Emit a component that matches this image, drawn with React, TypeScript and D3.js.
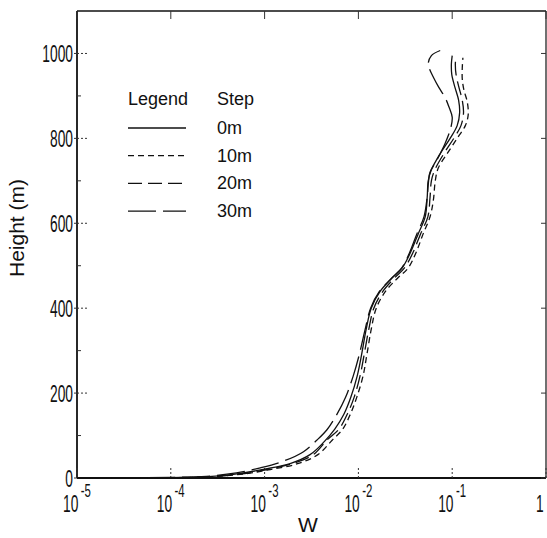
import React, { useEffect, useRef } from 'react';
import * as d3 from 'd3';

// W values vs height (m) for each step
const step0m: [number, number][] = [
  [1e-5, 0], [1e-4, 1], [2.5e-4, 3], [5.5e-4, 11], [1.0e-3, 21], [1.87e-3, 34], [3.05e-3, 55],
  [4.3e-3, 85], [5.6e-3, 115], [7.0e-3, 150], [8.3e-3, 190], [0.0097, 240], [0.0108, 290],
  [0.0121, 350], [0.0137, 400], [0.0171, 440], [0.0225, 470], [0.0293, 495], [0.0357, 530],
  [0.0434, 575], [0.0515, 615], [0.0541, 660], [0.0555, 700], [0.0597, 725], [0.075, 765],
  [0.095, 800], [0.113, 830], [0.12, 860], [0.117, 890], [0.107, 920], [0.099, 950],
  [0.098, 975], [0.1, 995],
];

const step10m: [number, number][] = [
  [1e-5, 0], [1e-4, 0.5], [2.7e-4, 3], [6.2e-4, 10], [1.15e-3, 20], [2.2e-3, 33], [3.7e-3, 55],
  [5.25e-3, 89], [6.8e-3, 115], [8.2e-3, 150], [9.6e-3, 190], [0.0112, 240], [0.0123, 290],
  [0.0137, 350], [0.0155, 400], [0.0195, 440], [0.026, 470], [0.034, 495], [0.041, 530],
  [0.049, 575], [0.058, 615], [0.063, 655], [0.066, 700], [0.071, 730], [0.089, 765],
  [0.113, 800], [0.138, 830], [0.148, 855], [0.145, 885], [0.133, 915], [0.128, 940],
  [0.128, 965], [0.13, 990],
];

const step20m: [number, number][] = [
  [1e-5, 0], [1e-4, 0.8], [2.6e-4, 3], [5.8e-4, 10], [1.07e-3, 20], [2.0e-3, 34], [3.3e-3, 55],
  [4.6e-3, 89], [6.2e-3, 115], [7.6e-3, 150], [9.0e-3, 190], [0.0104, 240], [0.0115, 290],
  [0.0129, 350], [0.0146, 400], [0.0183, 440], [0.024, 470], [0.031, 495], [0.038, 530],
  [0.046, 575], [0.055, 615], [0.058, 660], [0.06, 700], [0.065, 725], [0.082, 765],
  [0.104, 800], [0.124, 830], [0.132, 860], [0.128, 890], [0.118, 920], [0.11, 950],
  [0.108, 975], [0.11, 995],
];

const step30m: [number, number][] = [
  [1e-5, 0], [1e-4, 1.5], [2.4e-4, 4], [5e-4, 12], [9e-4, 24], [1.6e-3, 40], [2.6e-3, 62],
  [3.6e-3, 89], [4.6e-3, 113], [5.9e-3, 150], [7.3e-3, 190], [8.8e-3, 240], [0.0102, 290],
  [0.0118, 350], [0.0135, 400], [0.0168, 440], [0.0225, 470], [0.029, 495], [0.035, 530],
  [0.042, 575], [0.05, 615], [0.054, 660], [0.056, 700], [0.058, 720], [0.069, 750],
  [0.084, 788], [0.097, 826], [0.1, 850], [0.092, 875], [0.084, 896], [0.072, 920],
  [0.063, 944], [0.057, 965], [0.0555, 976], [0.06, 995], [0.0745, 1007],
];

const legendLabels = ['0m', '10m', '20m', '30m'];
const dashes = ['none', '6,4', '14,6', '28,7'];
const yTicks = [0, 200, 400, 600, 800, 1000];
const yMinorTicks = [100, 300, 500, 700, 900];
const xExponents = [-5, -4, -3, -2, -1];

function App() {
  const svgRef = useRef<SVGSVGElement>(null);

  useEffect(() => {
    const width = 547;
    const height = 538;
    const svg = d3.select(svgRef.current).attr('width', width).attr('height', height);
    svg.selectAll('*').remove();

    const x = d3.scaleLog().domain([1e-5, 1]).range([77, 546]);
    const y = d3.scaleLinear().domain([0, 1100]).range([478, 11]);
    const [x0, x1] = x.range();
    const [y0, y1] = y.range();
    const font = '"Liberation Sans", Arial, sans-serif';

    // frame
    const frame = svg.append('g').attr('stroke', '#111').attr('stroke-width', 1.8).attr('fill', 'none');
    frame.append('line').attr('x1', x0).attr('x2', x0).attr('y1', y1).attr('y2', y0);
    frame.append('line').attr('x1', x0).attr('x2', x1).attr('y1', y0).attr('y2', y0);
    frame.append('line').attr('x1', x0).attr('x2', x1).attr('y1', y1).attr('y2', y1).attr('stroke-width', 1.4);
    frame.append('line').attr('x1', x1).attr('x2', x1).attr('y1', y1).attr('y2', y0).attr('stroke-width', 1.2);

    // y ticks
    const ticks = svg.append('g').attr('stroke', '#333').attr('stroke-width', 1);
    yTicks.forEach(t => {
      ticks.append('line').attr('x1', x0).attr('x2', x0 + 11).attr('y1', y(t)).attr('y2', y(t))
        .attr('stroke-dasharray', '2,2');
      ticks.append('line').attr('x1', x0 - 3).attr('x2', x0).attr('y1', y(t)).attr('y2', y(t));
      ticks.append('line').attr('x1', x1 - 5).attr('x2', x1).attr('y1', y(t)).attr('y2', y(t));
    });
    yMinorTicks.forEach(t => {
      ticks.append('line').attr('x1', x0).attr('x2', x0 + 4).attr('y1', y(t)).attr('y2', y(t));
    });

    // x ticks
    xExponents.concat([0]).forEach(e => {
      const px = x(Math.pow(10, e));
      ticks.append('line').attr('x1', px).attr('x2', px).attr('y1', y0).attr('y2', y0 - 10)
        .attr('stroke-dasharray', '2,2');
      ticks.append('line').attr('x1', px).attr('x2', px).attr('y1', y1).attr('y2', y1 + 8);
    });

    // y tick labels (tall, narrow digits)
    yTicks.forEach(t => {
      svg.append('text')
        .attr('transform', `translate(73,${y(t) + 8.5}) scale(0.6,1)`)
        .attr('text-anchor', 'end')
        .attr('font-family', font)
        .attr('font-size', 23)
        .attr('fill', '#111')
        .text(String(t));
    });

    // x tick labels 10^e, condensed
    xExponents.forEach(e => {
      const px = x(Math.pow(10, e));
      const t = svg.append('text')
        .attr('transform', `translate(${px - 14},512) scale(0.6,1)`)
        .attr('font-family', font)
        .attr('font-size', 23)
        .attr('fill', '#111');
      t.append('tspan').text('10');
      t.append('tspan').attr('dx', 4).attr('dy', -15).attr('font-size', 19).text(`-${-e}`);
    });
    svg.append('text')
      .attr('transform', `translate(${x(1) - 10},512) scale(0.6,1)`)
      .attr('font-family', font)
      .attr('font-size', 23)
      .attr('fill', '#111')
      .text('1');

    // axis titles
    svg.append('text')
      .attr('x', 308)
      .attr('y', 532)
      .attr('text-anchor', 'middle')
      .attr('font-family', font)
      .attr('font-size', 21)
      .attr('fill', '#111')
      .text('W');

    svg.append('text')
      .attr('transform', 'translate(24,228) rotate(-90)')
      .attr('text-anchor', 'middle')
      .attr('font-family', font)
      .attr('font-size', 21)
      .attr('fill', '#111')
      .text('Height (m)');

    // curves
    const line = d3.line<[number, number]>()
      .x(d => x(d[0]))
      .y(d => y(d[1]))
      .curve(d3.curveCatmullRom.alpha(0.5));

    const series = [step0m, step10m, step20m, step30m];
    series.forEach((s, i) => {
      svg.append('path')
        .attr('d', line(s))
        .attr('fill', 'none')
        .attr('stroke', '#111')
        .attr('stroke-width', 1.3)
        .attr('stroke-dasharray', dashes[i]);
    });

    // legend
    const legend = svg.append('g').attr('font-family', font).attr('fill', '#111');
    legend.append('text').attr('x', 128).attr('y', 105).attr('font-size', 18).text('Legend');
    legend.append('text').attr('x', 217).attr('y', 105).attr('font-size', 18).text('Step');
    legendLabels.forEach((lab, i) => {
      const ly = 128 + i * 27.7;
      legend.append('line')
        .attr('x1', 128).attr('x2', 186).attr('y1', ly).attr('y2', ly)
        .attr('stroke', '#111').attr('stroke-width', 1.3)
        .attr('stroke-dasharray', dashes[i]);
      legend.append('text').attr('x', 217).attr('y', ly + 6).attr('font-size', 18).text(lab);
    });
  }, []);

  return (
    <svg ref={svgRef} style={{ position: 'absolute', left: 0, top: 0, background: '#fff' }}></svg>
  );
}

export default App;
